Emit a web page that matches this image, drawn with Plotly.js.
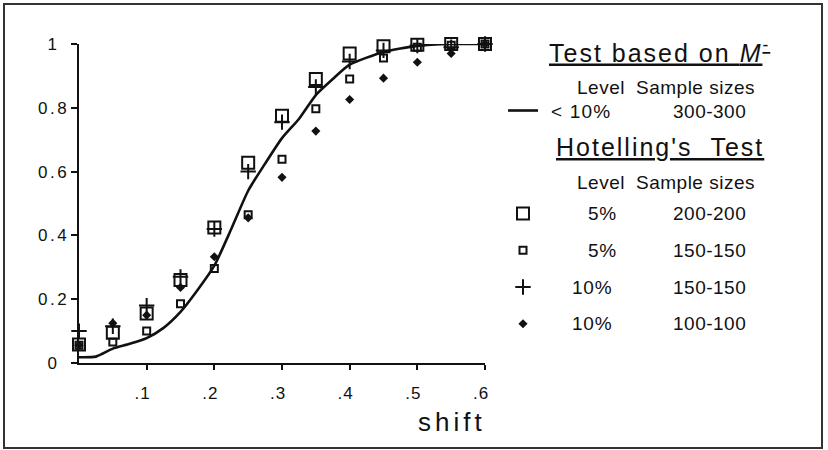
<!DOCTYPE html>
<html>
<head>
<meta charset="utf-8">
<script src="https://cdn.plot.ly/plotly-3.0.1.min.js"></script>
<style>
  html, body { margin: 0; padding: 0; background: #fff; }
  #chart { width: 828px; height: 450px; position: absolute; left: 0; top: 0; }
  #frame { position: absolute; left: 3px; top: 3px; width: 820px; height: 446px;
           box-sizing: border-box; border: 2px solid #333; pointer-events: none; }
  .ytick text { letter-spacing: 2.5px; text-anchor: middle !important; }
  .xtick text { letter-spacing: 1px; }
</style>
</head>
<body>
<div id="chart"></div>
<div id="frame"></div>
<script>
// ---------- data ----------
var shift = [0, 0.05, 0.1, 0.15, 0.2, 0.25, 0.3, 0.35, 0.4, 0.45, 0.5, 0.55, 0.6];
var hot5_200 = [0.058, 0.095, 0.155, 0.26, 0.425, 0.628, 0.775, 0.89, 0.97, 0.993, 0.998, 1.0, 1.0];
var hot5_150 = [0.056, 0.066, 0.10, 0.186, 0.296, 0.465, 0.639, 0.797, 0.89, 0.956, 0.99, 0.996, 1.0];
var hot10_150 = [0.10, 0.115, 0.18, 0.27, 0.42, 0.60, 0.755, 0.865, 0.945, 0.98, 0.995, 0.99, 1.0];
var hot10_100 = [0.056, 0.125, 0.15, 0.237, 0.333, 0.455, 0.582, 0.727, 0.826, 0.893, 0.943, 0.97, 1.0];

var mShift = [0, 0.025, 0.05, 0.075, 0.1, 0.125, 0.15, 0.175, 0.2, 0.225, 0.25, 0.275, 0.3, 0.325, 0.35, 0.375, 0.4, 0.45, 0.5, 0.55, 0.6];
var mPower = [0.018, 0.02, 0.045, 0.06, 0.078, 0.11, 0.16, 0.228, 0.305, 0.42, 0.54, 0.625, 0.705, 0.765, 0.84, 0.89, 0.935, 0.975, 0.994, 1.0, 1.0];

var yTickVals = [0, 0.2, 0.4, 0.6, 0.8, 1];
var yTickText = ['0', '0.2', '0.4', '0.6', '0.8', '1'];
var xTickVals = [0.1, 0.2, 0.3, 0.4, 0.5, 0.6];
var xTickText = ['.1', '.2', '.3', '.4', '.5', '.6'];

var xTitle = 'shift';
var head1 = 'Test based on <i>M</i><sup>-</sup>';
var head2 = 'Hotelling\'s\u00a0\u00a0Test';
var colLevel = 'Level';
var colSizes = 'Sample sizes';
var mLevel = '< 10%';
var mSizes = '300-300';
var hotLevels = ['5%', '5%', '10%', '10%'];
var hotSizes = ['200-200', '150-150', '150-150', '100-100'];

// ---------- layout helpers (pixel -> paper) ----------
var L = 79, R = 343, T = 44, B = 87, W = 828, H = 450;
var pw = W - L - R, ph = H - T - B;
function xp(px) { return (px - L) / pw; }
function yp(py) { return (H - B - py) / ph; }

var FONT = 'Liberation Sans, Arial, Helvetica, sans-serif';
function ann(text, px, py, size, xanchor, ls) {
  return {
    text: '<span style="letter-spacing:' + ls + 'px">' + text + '</span>',
    x: xp(px), y: yp(py), xref: 'paper', yref: 'paper',
    xanchor: xanchor, yanchor: 'middle', showarrow: false,
    font: { family: FONT, size: size, color: '#111' }
  };
}

var annotations = [
  ann(xTitle, 416, 422, 26, 'left', 4),
  ann('<u>' + head1 + '</u>', 547, 51, 25, 'left', 2),
  ann(colLevel, 575, 87, 19, 'left', 0.5),
  ann(colSizes, 634, 87, 19, 'left', 0.5),
  ann(mLevel, 549, 111, 19, 'left', 1.2),
  ann(mSizes, 671, 111, 19, 'left', 0.5),
  ann('<u>' + head2 + '</u>', 554, 147, 25, 'left', 2),
  ann(colLevel, 575, 182, 19, 'left', 0.5),
  ann(colSizes, 634, 182, 19, 'left', 0.5)
];
var rowY = [213, 250, 287, 323];
var levelX = [586, 586, 570, 570];
for (var i = 0; i < 4; i++) {
  annotations.push(ann(hotLevels[i], levelX[i], rowY[i], 19, 'left', 0.8));
  annotations.push(ann(hotSizes[i], 671, rowY[i], 19, 'left', 0.5));
}

// ---------- traces ----------
var traces = [
  { x: mShift, y: mPower, mode: 'lines', name: '', legend: 'legend',
    line: { color: '#111', width: 2.6, shape: 'spline', smoothing: 0.6 }, cliponaxis: false },
  { x: shift, y: hot5_200, mode: 'markers', name: '', legend: 'legend2',
    marker: { symbol: 'square-open', size: 12, color: '#111', line: { color: '#111', width: 2 } }, cliponaxis: false },
  { x: shift, y: hot5_150, mode: 'markers', name: '', legend: 'legend2',
    marker: { symbol: 'square-open', size: 7, color: '#111', line: { color: '#111', width: 2 } }, cliponaxis: false },
  { x: shift, y: hot10_150, mode: 'markers', name: '', legend: 'legend2',
    marker: { symbol: 'cross-thin', size: 11, color: '#111', line: { color: '#111', width: 2 } }, cliponaxis: false },
  { x: shift, y: hot10_100, mode: 'markers', name: '', legend: 'legend2',
    marker: { symbol: 'diamond', size: 7, color: '#111', line: { width: 0 } }, cliponaxis: false }
];

var layout = {
  width: W, height: H,
  margin: { l: L, r: R, t: T, b: B, pad: 0 },
  paper_bgcolor: '#fff', plot_bgcolor: '#fff',
  font: { family: FONT, color: '#111' },
  showlegend: true,
  legend: { x: xp(503), y: yp(91), xanchor: 'left', yanchor: 'top',
            font: { size: 20 }, bgcolor: 'rgba(0,0,0,0)', borderwidth: 0, itemclick: false },
  legend2: { x: xp(503), y: yp(190), xanchor: 'left', yanchor: 'top',
             font: { size: 26 }, bgcolor: 'rgba(0,0,0,0)', borderwidth: 0, itemclick: false },
  xaxis: {
    range: [0, 0.6], showgrid: false, zeroline: false,
    showline: true, linecolor: '#111', linewidth: 2,
    ticks: 'outside', ticklen: 5, tickwidth: 2, tickcolor: '#111',
    tickvals: xTickVals, ticktext: xTickText, ticklabelshift: -4, ticklabelstandoff: 9,
    tickfont: { family: FONT, size: 17, color: '#111' }
  },
  yaxis: {
    range: [0, 1], showgrid: false, zeroline: false,
    showline: true, linecolor: '#111', linewidth: 2,
    ticks: 'outside', ticklen: 6, tickwidth: 2, tickcolor: '#111',
    tickvals: yTickVals, ticktext: yTickText, ticklabelstandoff: 14,
    tickfont: { family: FONT, size: 17, color: '#111' }
  },
  annotations: annotations
};

Plotly.newPlot('chart', traces, layout, { displayModeBar: false, staticPlot: true });
</script>
</body>
</html>
